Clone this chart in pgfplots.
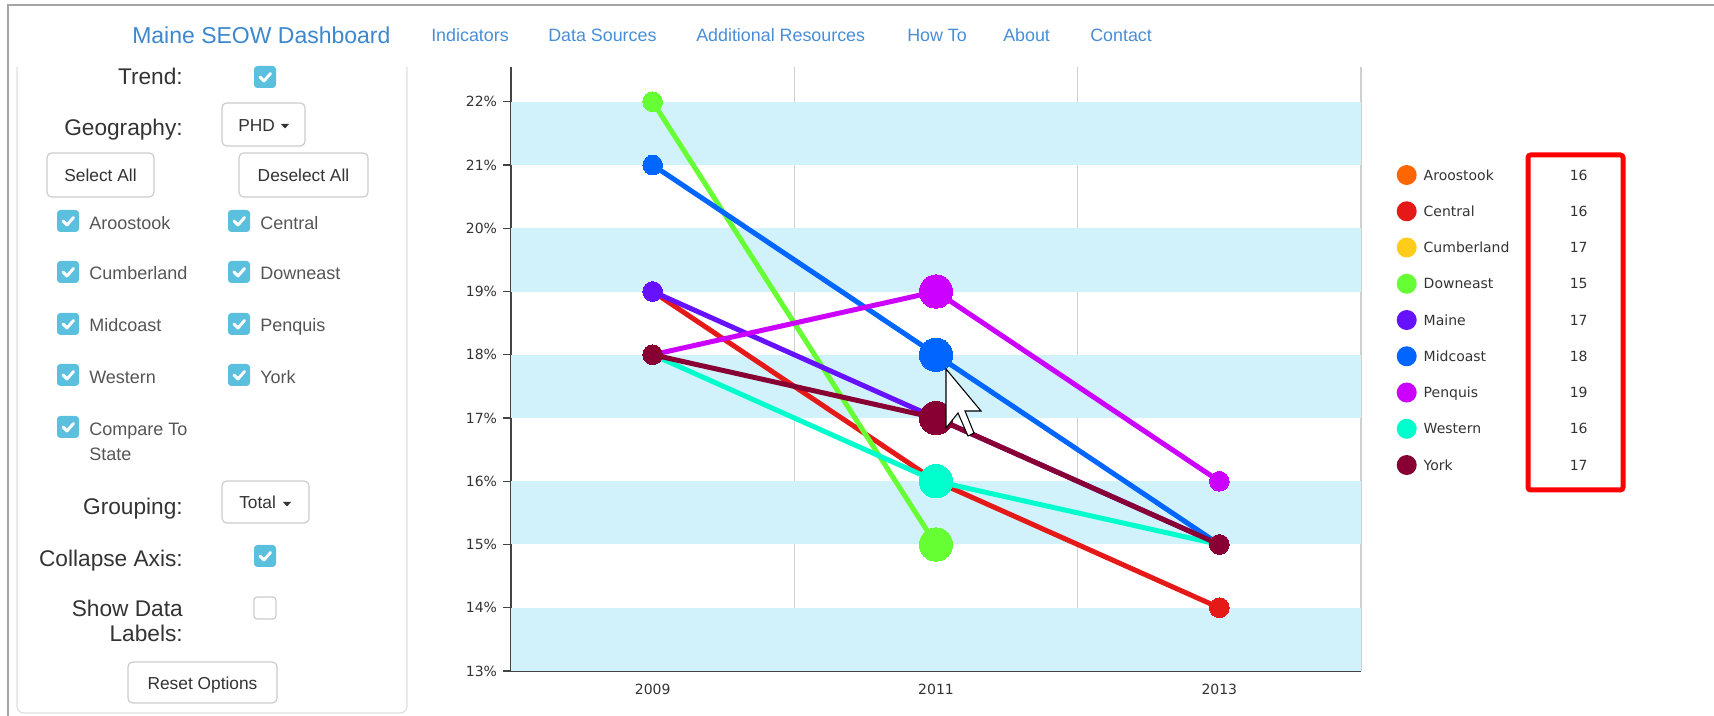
\documentclass[border=0pt]{standalone}
\usepackage{pgfplots}
\pgfplotsset{compat=1.18}
\usepackage{fontspec}
\setmainfont{Liberation Sans}
\newfontfamily\chartfont{DejaVu Sans}
\definecolor{band}{RGB}{210,242,251}
\definecolor{axisgray}{RGB}{68,68,68}
\definecolor{gridgray}{RGB}{208,208,208}
\definecolor{labelgray}{RGB}{51,51,51}
\definecolor{txtdark}{RGB}{51,51,51}
\definecolor{txtgray}{RGB}{85,85,85}
\definecolor{cbblue}{RGB}{91,192,222}
\definecolor{btngray}{RGB}{204,204,204}
\definecolor{framegray}{RGB}{165,165,165}
\definecolor{panelgray}{RGB}{222,222,222}
\definecolor{navtitle}{RGB}{60,135,205}
\definecolor{navlink}{RGB}{72,142,215}
\definecolor{cAroo}{RGB}{255,102,0}
\definecolor{cCent}{RGB}{230,25,25}
\definecolor{cCumb}{RGB}{255,204,26}
\definecolor{cDown}{RGB}{102,255,51}
\definecolor{cMain}{RGB}{102,17,255}
\definecolor{cMidc}{RGB}{0,102,255}
\definecolor{cPenq}{RGB}{204,0,255}
\definecolor{cWest}{RGB}{0,255,204}
\definecolor{cYork}{RGB}{136,0,51}
\newcommand\cbox[2]{%
  \fill[cbblue, rounded corners=2.5pt] (#1,#2) rectangle ({#1+22},{#2+22});
  \draw[white, line width=2.2pt, line cap=round, line join=round] ({#1+6},{#2+11}) -- ({#1+10},{#2+15}) -- ({#1+16.5},{#2+7.5});}
\newcommand\ebox[2]{\draw[btngray, line width=0.9pt, rounded corners=2.5pt] (#1,#2) rectangle ({#1+22},{#2+22});}
\newcommand\btn[4]{\draw[btngray, line width=0.9pt, rounded corners=3.5pt, fill=white] (#1,#2) rectangle (#3,#4);}
\newcommand\lab[3]{\node[anchor=base east, inner sep=0pt, text=txtdark, font=\fontsize{17}{20}\selectfont] at (#1,#2) {#3};}
\newcommand\cl[3]{\node[anchor=base west, inner sep=0pt, text=txtgray, font=\fontsize{13.5}{16}\selectfont] at (#1,#2) {#3};}
\newcommand\bt[3]{\node[anchor=base, inner sep=0pt, text=txtdark, font=\fontsize{13}{16}\selectfont] at (#1,#2) {#3};}
\newcommand\lgent[2]{\makebox[101.25pt][l]{#1}\makebox[30pt][c]{#2}}
\begin{document}
\begin{tikzpicture}
\begin{scope}[x=0.75pt,y=-0.75pt,yshift=537pt]
  \path[use as bounding box] (0,0) rectangle (1714,716);
  % frame
  \draw[framegray, line width=2pt] (8,716) -- (8,5) -- (1714,5);
  \draw[panelgray, line width=0.9pt, rounded corners=5pt] (17,67) -- (17,713) -- (407,713) -- (407,67);
  % nav
  \node[anchor=base west, inner sep=0pt, text=navtitle, font=\fontsize{17.25}{20}\selectfont] at (132,43.3) {Maine SEOW Dashboard};
  \begin{scope}[every node/.style={anchor=base west, inner sep=0pt, text=navlink, font=\fontsize{13.4}{16}\selectfont}]
    \node at (431,41.7) {Indicators};
    \node at (548,41.7) {Data Sources};
    \node at (696,41.7) {Additional Resources};
    \node at (907,41.7) {How To};
    \node at (1003,41.7) {About};
    \node at (1090,41.7) {Contact};
  \end{scope}
  % left panel
  \lab{183}{85}{Trend:}
  \cbox{254}{66}
  \lab{183}{136}{Geography:}
  \btn{222}{103}{305}{146}
  \node[anchor=base west, inner sep=0pt, text=txtdark, font=\fontsize{13}{16}\selectfont] at (238,131.7) {PHD};
  \fill[txtdark] (281,124) -- (289,124) -- (285,128.5) -- cycle;
  \btn{47}{153}{154}{197}
  \bt{100.5}{181.7}{Select All}
  \btn{239}{153}{368}{197}
  \bt{303.5}{181.7}{Deselect All}
  \cbox{57}{210}  \cl{89}{229.3}{Aroostook}
  \cbox{228}{210} \cl{260}{229.3}{Central}
  \cbox{57}{261}  \cl{89}{280}{Cumberland}
  \cbox{228}{261} \cl{260}{280}{Downeast}
  \cbox{57}{313}  \cl{89}{331.7}{Midcoast}
  \cbox{228}{313} \cl{260}{331.7}{Penquis}
  \cbox{57}{364}  \cl{89}{383.3}{Western}
  \cbox{228}{364} \cl{260}{383.3}{York}
  \cbox{57}{416}  \cl{89}{435.7}{Compare To}
  \cl{89}{461}{State}
  \lab{183}{515}{Grouping:}
  \btn{222}{481}{309}{523}
  \node[anchor=base west, inner sep=0pt, text=txtdark, font=\fontsize{13}{16}\selectfont] at (239,508.3) {Total};
  \fill[txtdark] (283,502) -- (291,502) -- (287,506.5) -- cycle;
  \lab{183}{566.7}{Collapse Axis:}
  \cbox{254}{545}
  \lab{183}{616.7}{Show Data}
  \lab{183}{641.7}{Labels:}
  \ebox{254}{597}
  \btn{128}{662}{277}{703}
  \bt{202.5}{689.3}{Reset Options}
\end{scope}
\begin{axis}[
  at={(383.25pt,33.75pt)}, anchor=south west,
  scale only axis, width=637.5pt, height=453pt,
  xmin=2008, xmax=2014, ymin=13, ymax=22.55,
  axis x line*=bottom, axis y line*=left,
  axis line style={draw=axisgray, line width=1.5pt},
  xtick={2009,2011,2013}, xticklabels={2009,2011,2013},
  minor xtick={2010,2012,2014},
  xminorgrids=true, xmajorgrids=false, ymajorgrids=false,
  minor x grid style={draw=gridgray, line width=1.1pt},
  ytick={13,14,15,16,17,18,19,20,21,22},
  yticklabels={13\%,14\%,15\%,16\%,17\%,18\%,19\%,20\%,21\%,22\%},
  tick align=outside,
  major tick length=6pt, minor tick length=0pt,
  xtick style={draw=none},
  ytick style={draw=axisgray, line width=1pt},
  ticklabel style={font=\chartfont\fontsize{10.5}{12}\selectfont, text=labelgray},
  yticklabel style={xshift=-1pt},
  clip=false,
  legend cell align=left,
  legend image code/.code={\path[fill, draw=none] (7.5pt,1.1pt) circle[radius=7.5pt];},
  legend style={at={(1.042,0.8377)}, anchor=north west, draw=none, fill=none,
    inner sep=0pt, outer sep=0pt, row sep=12.19pt, column sep=5.25pt,
    font=\chartfont\fontsize{10.5}{12}\selectfont, text=labelgray,
    nodes={inner sep=0pt, outer sep=0pt, text height=8pt, text depth=2.5pt}},
]
% background bands
\fill[band] (axis cs:2008,13) rectangle (axis cs:2014,14);
\fill[band] (axis cs:2008,15) rectangle (axis cs:2014,16);
\fill[band] (axis cs:2008,17) rectangle (axis cs:2014,18);
\fill[band] (axis cs:2008,19) rectangle (axis cs:2014,20);
\fill[band] (axis cs:2008,21) rectangle (axis cs:2014,22);

\addlegendimage{color=cAroo}
\addlegendentry{\lgent{Aroostook}{16}}

\addplot[color=cCent, line width=3.75pt, mark=*, mark size=7.4pt, mark options={line width=0pt}]
  coordinates {(2009,19) (2011,16) (2013,14)};
\addlegendentry{\lgent{Central}{16}}
\addplot[color=cCent, only marks, mark=*, mark size=12.5pt, mark options={line width=0pt}, forget plot]
  coordinates {(2011,16)};

\addlegendimage{color=cCumb}
\addlegendentry{\lgent{Cumberland}{17}}

\addplot[color=cDown, line width=3.75pt, mark=*, mark size=7.4pt, mark options={line width=0pt}]
  coordinates {(2009,22) (2011,15)};
\addlegendentry{\lgent{Downeast}{15}}
\addplot[color=cDown, only marks, mark=*, mark size=12.5pt, mark options={line width=0pt}, forget plot]
  coordinates {(2011,15)};

\addplot[color=cMain, line width=3.75pt, mark=*, mark size=7.4pt, mark options={line width=0pt}]
  coordinates {(2009,19) (2011,17) (2013,15)};
\addlegendentry{\lgent{Maine}{17}}
\addplot[color=cMain, only marks, mark=*, mark size=12.5pt, mark options={line width=0pt}, forget plot]
  coordinates {(2011,17)};

\addplot[color=cMidc, line width=3.75pt, mark=*, mark size=7.4pt, mark options={line width=0pt}]
  coordinates {(2009,21) (2011,18) (2013,15)};
\addlegendentry{\lgent{Midcoast}{18}}
\addplot[color=cMidc, only marks, mark=*, mark size=12.5pt, mark options={line width=0pt}, forget plot]
  coordinates {(2011,18)};

\addplot[color=cPenq, line width=3.75pt, mark=*, mark size=7.4pt, mark options={line width=0pt}]
  coordinates {(2009,18) (2011,19) (2013,16)};
\addlegendentry{\lgent{Penquis}{19}}
\addplot[color=cPenq, only marks, mark=*, mark size=12.5pt, mark options={line width=0pt}, forget plot]
  coordinates {(2011,19)};

\addplot[color=cWest, line width=3.75pt, mark=*, mark size=7.4pt, mark options={line width=0pt}]
  coordinates {(2009,18) (2011,16) (2013,15)};
\addlegendentry{\lgent{Western}{16}}
\addplot[color=cWest, only marks, mark=*, mark size=12.5pt, mark options={line width=0pt}, forget plot]
  coordinates {(2011,16)};

\addplot[color=cYork, line width=3.75pt, mark=*, mark size=7.4pt, mark options={line width=0pt}]
  coordinates {(2009,18) (2011,17) (2013,15)};
\addlegendentry{\lgent{York}{17}}
\addplot[color=cYork, only marks, mark=*, mark size=12.5pt, mark options={line width=0pt}, forget plot]
  coordinates {(2011,17)};
\end{axis}
\begin{scope}[x=0.75pt,y=-0.75pt,yshift=537pt]
  % mouse cursor
  \filldraw[fill=white, draw=black, line width=0.8pt, line join=miter]
    (946,369) -- (946,428) -- (958,413) -- (968,436) -- (974,433) -- (965,411) -- (981,411) -- cycle;
  % highlight box
  \draw[red, line width=3.75pt, rounded corners=2pt] (1528,155) rectangle (1623,490);
\end{scope}
\end{tikzpicture}
\end{document}
